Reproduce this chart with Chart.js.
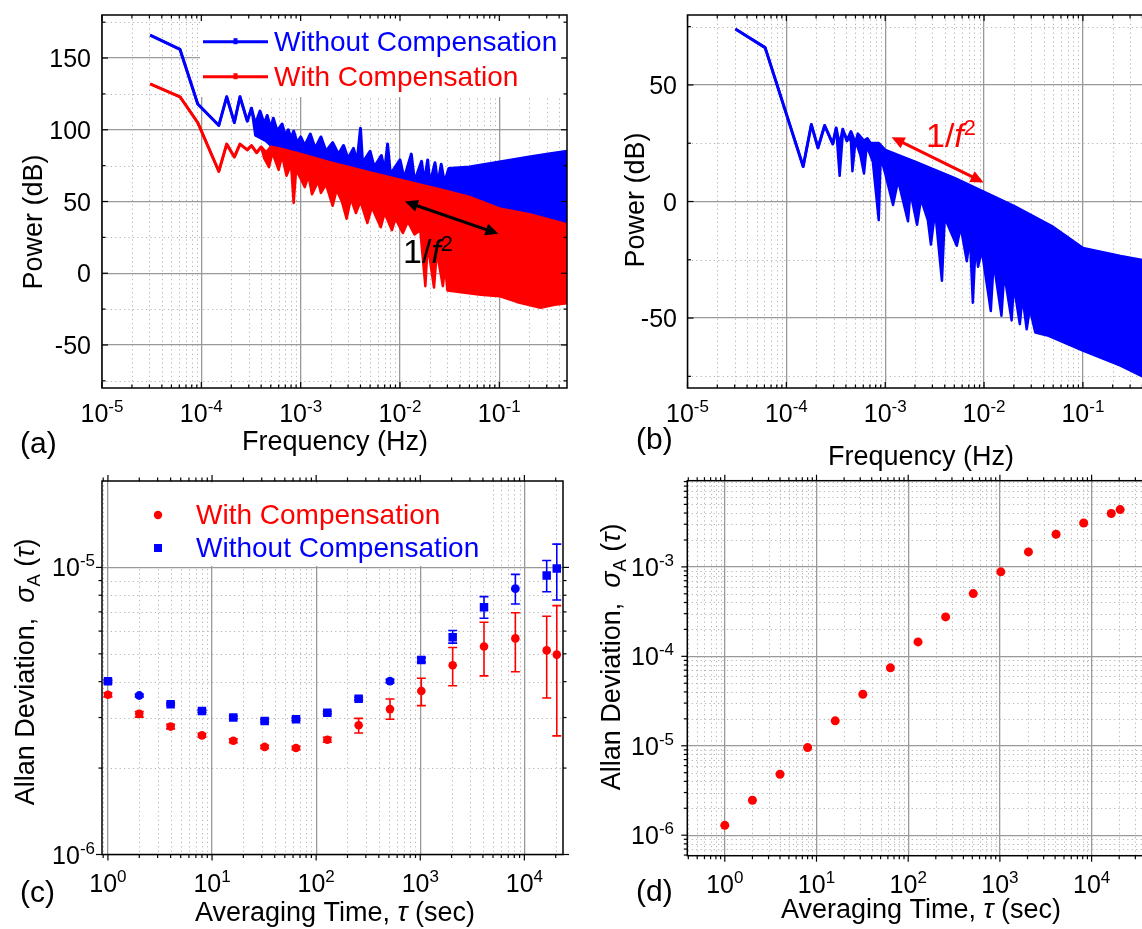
<!DOCTYPE html>
<html>
<head>
<meta charset="utf-8">
<script src="https://cdn.jsdelivr.net/npm/chart.js@4.4.1/dist/chart.umd.min.js"></script>
<style>
html, body { margin: 0; padding: 0; background: #fff; }
body { width: 1142px; height: 929px; overflow: hidden; position: relative; }
canvas { position: absolute; }
</style>
</head>
<body>
<canvas id="ca" width="580" height="480" style="left:0;top:0"></canvas>
<canvas id="cb" width="600" height="480" style="left:580px;top:0"></canvas>
<canvas id="cc" width="580" height="474" style="left:0;top:455px"></canvas>
<canvas id="cd" width="600" height="474" style="left:580px;top:455px"></canvas>
<script>
// ---- data ----

// (a) power spectra, [frequency (Hz), power (dB)] along the top and bottom edge of each trace
const aBlueUpper = [[3.05e-5,166],[6.1e-5,156],[9.2e-5,118],[1.5e-4,103],[1.8e-4,123],[2.15e-4,105],[2.45e-4,123],[2.9e-4,106],[3.2e-4,115],[3.5e-4,104],[3.9e-4,113],[4.3e-4,104],[4.6e-4,110],[5.0e-4,101],[5.3e-4,108],[5.8e-4,99],[6.5e-4,104],[7.0e-4,96],[7.5e-4,100],[8.0e-4,94],[8.5e-4,99],[9.2e-4,91],[1.0e-3,95],[1.1e-3,89],[1.25e-3,97],[1.4e-3,87],[1.6e-3,95],[1.8e-3,85],[2.1e-3,91],[2.4e-3,83],[2.7e-3,89],[3.0e-3,80],[3.4e-3,87],[3.7e-3,78],[4.0e-3,101],[4.2e-3,77],[5.0e-3,85],[5.5e-3,74],[6.5e-3,82],[7.0e-3,71],[7.5e-3,90],[8.0e-3,69],[1.0e-2,79],[1.1e-2,66],[1.3e-2,83],[1.4e-2,64],[1.65e-2,78],[1.75e-2,63],[1.9e-2,79],[2.0e-2,62],[2.25e-2,77],[2.4e-2,62],[2.6e-2,76],[2.8e-2,63],[3.1e-2,73],[5e-2,74],[0.1,77.5],[0.2,81],[0.3,83],[0.48,85]];
const aBlueLower = [[3.05e-5,166],[6.1e-5,156],[9.2e-5,118],[1.5e-4,103],[1.8e-4,123],[2.15e-4,105],[2.45e-4,123],[2.9e-4,106],[3.2e-4,115],[3.5e-4,96],[4.5e-4,92],[6e-4,84],[1e-3,78],[1e-2,60],[0.1,42],[0.48,30]];
const aRedUpper = [[3.05e-5,132],[6.1e-5,123],[9.2e-5,105],[1.5e-4,71],[1.8e-4,90],[2.15e-4,81],[2.45e-4,90],[2.9e-4,86],[3.2e-4,89],[3.6e-4,84],[4.0e-4,88],[4.5e-4,84],[5.0e-4,88],[6e-4,87],[1e-3,83],[2e-3,77],[5e-3,70],[1e-2,65],[3e-2,57],[5e-2,53],[0.1,45],[0.2,41],[0.48,34]];
const aRedLower = [[3.05e-5,132],[6.1e-5,123],[9.2e-5,105],[1.5e-4,71],[1.8e-4,90],[2.15e-4,81],[2.45e-4,90],[2.9e-4,86],[3.2e-4,89],[3.6e-4,84],[4.0e-4,88],[4.3e-4,80],[4.8e-4,74],[5.2e-4,84],[6.0e-4,72],[6.5e-4,82],[7.2e-4,68],[8.0e-4,76],[8.5e-4,49],[9.0e-4,72],[1.0e-3,66],[1.1e-3,60],[1.2e-3,68],[1.3e-3,55],[1.5e-3,64],[1.6e-3,56],[1.8e-3,62],[2.1e-3,47],[2.3e-3,58],[2.6e-3,50],[2.9e-3,38],[3.2e-3,52],[3.6e-3,42],[4.0e-3,50],[4.7e-3,35],[5.2e-3,46],[6.4e-3,32],[7.0e-3,42],[8.3e-3,30],[9.0e-3,38],[1.07e-2,28],[1.2e-2,36],[1.4e-2,27],[1.6e-2,30],[1.8e-2,-9],[1.9e-2,20],[2.2e-2,-10],[2.35e-2,15],[2.7e-2,-9],[2.85e-2,5],[3.0e-2,-12],[6.5e-2,-15],[0.1,-16],[0.15,-20],[0.26,-24],[0.36,-22],[0.48,-21]];

// (b) power spectrum
const bUpper = [[3.05e-5,74],[6.1e-5,66],[1.48e-4,15],[1.79e-4,33],[2.09e-4,23],[2.44e-4,32.6],[2.95e-4,24.7],[3.19e-4,31.5],[3.46e-4,24],[3.72e-4,31],[4.1e-4,26],[4.5e-4,30],[5.0e-4,25],[5.3e-4,29],[6.1e-4,26],[6.6e-4,27],[7.1e-4,25],[8.6e-4,25],[1e-3,22],[2e-3,17],[5e-3,10],[1e-2,4],[2e-2,-2],[5e-2,-11],[0.1,-20],[0.24,-23.5],[0.5,-26]];
const bLower = [[3.05e-5,74],[6.1e-5,66],[1.48e-4,15],[1.79e-4,33],[2.09e-4,23],[2.44e-4,32.6],[2.95e-4,24.7],[3.19e-4,31.5],[3.46e-4,11],[3.72e-4,29],[4.5e-4,26],[4.66e-4,13],[5.0e-4,26],[5.6e-4,20],[6.1e-4,12],[6.5e-4,24],[7.5e-4,17],[8.6e-4,-8],[9.0e-4,19],[1.0e-3,12],[1.2e-3,-1.5],[1.35e-3,9],[1.7e-3,-8.5],[1.8e-3,4],[2.1e-3,-10],[2.3e-3,1],[2.7e-3,-8],[2.9e-3,-18.5],[3.2e-3,-4],[3.75e-3,-34],[4.0e-3,-7],[5.3e-3,-19],[5.8e-3,-11],[6.7e-3,-25.6],[7.2e-3,-15],[7.7e-3,-43.4],[8.2e-3,-19],[8.7e-3,-28],[9.5e-3,-21],[1.17e-2,-47],[1.25e-2,-26],[1.5e-2,-49],[1.6e-2,-31],[1.9e-2,-51],[2.0e-2,-36],[2.3e-2,-52.6],[2.45e-2,-41],[2.7e-2,-54.8],[2.9e-2,-46],[3.3e-2,-56.2],[4.5e-2,-57.6],[0.1,-64],[0.24,-70.4],[0.5,-77]];

// (c) Allan deviation with error bars
const tauC = [1, 2, 4, 8, 16, 32, 64, 128, 256, 512, 1024, 2048, 4096, 8192, 16384, 20480];
const cRed   = [3.60e-6, 3.09e-6, 2.79e-6, 2.60e-6, 2.49e-6, 2.37e-6, 2.35e-6, 2.51e-6, 2.82e-6, 3.21e-6, 3.71e-6, 4.56e-6, 5.30e-6, 5.66e-6, 5.14e-6, 4.97e-6];
const cRedHi = [3.66e-6, 3.15e-6, 2.84e-6, 2.64e-6, 2.53e-6, 2.40e-6, 2.38e-6, 2.56e-6, 2.98e-6, 3.48e-6, 4.11e-6, 5.26e-6, 6.44e-6, 6.95e-6, 6.76e-6, 7.36e-6];
const cRedLo = [3.54e-6, 3.01e-6, 2.74e-6, 2.56e-6, 2.45e-6, 2.34e-6, 2.32e-6, 2.46e-6, 2.65e-6, 2.96e-6, 3.30e-6, 3.87e-6, 4.19e-6, 4.33e-6, 3.51e-6, 2.59e-6];
const cBlue   = [4.01e-6, 3.58e-6, 3.34e-6, 3.16e-6, 3.00e-6, 2.92e-6, 2.96e-6, 3.12e-6, 3.49e-6, 4.02e-6, 4.76e-6, 5.71e-6, 7.27e-6, 8.43e-6, 9.38e-6, 9.92e-6];
const cBlueHi = [4.05e-6, 3.62e-6, 3.37e-6, 3.19e-6, 3.03e-6, 2.95e-6, 2.99e-6, 3.15e-6, 3.53e-6, 4.08e-6, 4.85e-6, 6.03e-6, 7.91e-6, 9.46e-6, 1.057e-5, 1.205e-5];
const cBlueLo = [3.97e-6, 3.54e-6, 3.31e-6, 3.13e-6, 2.97e-6, 2.89e-6, 2.93e-6, 3.09e-6, 3.45e-6, 3.96e-6, 4.67e-6, 5.45e-6, 6.65e-6, 7.46e-6, 8.23e-6, 7.70e-6];

// (d) Allan deviation
const tauD = [1, 2, 4, 8, 16, 32, 64, 128, 256, 512, 1024, 2048, 4096, 8192, 16384, 20480];
const dRed = [1.29e-6, 2.46e-6, 4.81e-6, 9.55e-6, 1.90e-5, 3.77e-5, 7.43e-5, 1.45e-4, 2.76e-4, 5.03e-4, 8.80e-4, 1.47e-3, 2.32e-3, 3.10e-3, 3.95e-3, 4.37e-3];

// tick values
const freqTicks = [1e-5, 1e-4, 1e-3, 1e-2, 1e-1];
const aPowerTicks = [-50, 0, 50, 100, 150];
const aPowerMinor = [-75, -25, 25, 75, 125, 175];
const bPowerTicks = [-50, 0, 50];
const bPowerMinor = [-75, -25, 25, 75];
const tauTicks = [1, 10, 100, 1000, 10000];
const cAllanTicks = [1e-6, 1e-5];
const dAllanTicks = [1e-6, 1e-5, 1e-4, 1e-3];

// the "1/f^2" guide arrows, [frequency, power]
const aArrow = [[1.12e-2, 50], [9.8e-2, 27.5]];
const bArrow = [[1.16e-3, 27.6], [9.9e-3, 8.2]];

// ---- drawing ----
const FONT = '"Liberation Sans", Arial, sans-serif';
const BLUE = '#0000ff';
const RED = '#ff0000';
const GRID = '#999999';
const MINOR = '#b4b4b4';

const pts = arr => arr.map(([x, y]) => ({ x, y }));
const xy = (xs, ys) => xs.map((x, i) => ({ x, y: ys[i] }));

function minorsLog(lo, hi) {
    const out = [];
    for (let e = Math.floor(Math.log10(lo)); e <= Math.ceil(Math.log10(hi)); e++) {
        for (let m = 2; m <= 9; m++) {
            const v = m * Math.pow(10, e);
            if (v > lo && v < hi) out.push(v);
        }
    }
    return out;
}

const expLabel = v => [['10', ''], [String(Math.round(Math.log10(v))), 'sup']];
const numLabel = v => [[String(v), '']];

// text made of runs: '' normal, 'it' italic, 'sup' superscript, 'sub' subscript
function drawRich(ctx, parts, x, y, o) {
    const size = o.size;
    ctx.save();
    ctx.translate(x, y);
    if (o.rotate) ctx.rotate(o.rotate);
    ctx.fillStyle = o.color || '#000';
    ctx.textBaseline = 'alphabetic';
    ctx.textAlign = 'left';
    const runs = parts.map(([t, k]) => {
        const small = k.includes('sup') || k.includes('sub');
        const fs = small ? size * (o.small || 0.68) : size;
        const font = (k.includes('it') ? 'italic ' : '') + fs.toFixed(1) + 'px ' + FONT;
        ctx.font = font;
        const w = ctx.measureText(t).width;
        const dy = k.includes('sup') ? -size * (o.rise || 0.4) : k.includes('sub') ? size * 0.25 : 0;
        return { t, font, w, dy };
    });
    const total = runs.reduce((s, r) => s + r.w, 0);
    let cx = o.align === 'right' ? -total : o.align === 'center' ? -total / 2 : 0;
    runs.forEach(r => {
        ctx.font = r.font;
        ctx.fillText(r.t, cx, r.dy);
        cx += r.w;
    });
    ctx.restore();
}

function drawArrow(ctx, x1, y1, x2, y2, color) {
    const a = Math.atan2(y2 - y1, x2 - x1);
    const head = 13, half = 6;
    ctx.save();
    ctx.strokeStyle = color;
    ctx.fillStyle = color;
    ctx.lineWidth = 3;
    ctx.beginPath();
    ctx.moveTo(x1 + Math.cos(a) * head * 0.7, y1 + Math.sin(a) * head * 0.7);
    ctx.lineTo(x2 - Math.cos(a) * head * 0.7, y2 - Math.sin(a) * head * 0.7);
    ctx.stroke();
    [[x1, y1, a + Math.PI], [x2, y2, a]].forEach(([px, py, ang]) => {
        ctx.beginPath();
        ctx.moveTo(px, py);
        ctx.lineTo(px - Math.cos(ang) * head - Math.sin(ang) * half, py - Math.sin(ang) * head + Math.cos(ang) * half);
        ctx.lineTo(px - Math.cos(ang) * head + Math.sin(ang) * half, py - Math.sin(ang) * head - Math.cos(ang) * half);
        ctx.closePath();
        ctx.fill();
    });
    ctx.restore();
}

// per-panel decoration, looked up by canvas id (page coordinates)
const DECOR = {
    ca: {
        ox: 0, oy: 0, inward: true,
        xMajor: freqTicks, xMinor: minorsLog(1e-5, 0.48), yMajor: aPowerTicks, yMinor: aPowerMinor,
        xFmt: expLabel, yFmt: numLabel, xBase: 421.5, yRight: 91,
        xTitle: { parts: [['Frequency (Hz)', '']], x: 335, y: 450 },
        yTitle: { parts: [['Power (dB)', '']], x: 32, y: 222 },
        tag: { text: '(a)', x: 20, y: 453 },
        box: [200, 16.5, 562, 97],
        legend: [
            { kind: 'line', color: BLUE, x: 203, x2: 268, y: 41.7, text: 'Without Compensation', tx: 274, ty: 51 },
            { kind: 'line', color: RED, x: 203, x2: 268, y: 76.7, text: 'With Compensation', tx: 274, ty: 86 }
        ],
        arrows: [{ ends: aArrow, color: '#000' }],
        notes: [{ x: 403, y: 263, color: '#000' }]
    },
    cb: {
        ox: 580, oy: 0, inward: true,
        xMajor: freqTicks, xMinor: minorsLog(1e-5, 0.5), yMajor: bPowerTicks, yMinor: bPowerMinor,
        xFmt: expLabel, yFmt: numLabel, xBase: 421.5, yRight: 677,
        xTitle: { parts: [['Frequency (Hz)', '']], x: 921, y: 465 },
        yTitle: { parts: [['Power (dB)', '']], x: 634, y: 200 },
        tag: { text: '(b)', x: 636, y: 449 },
        arrows: [{ ends: bArrow, color: RED }],
        notes: [{ x: 926, y: 147, color: RED }]
    },
    cc: {
        ox: 0, oy: 455, inward: false,
        xMajor: tauTicks, xMinor: minorsLog(0.877, 2.35e4), yMajor: cAllanTicks, yMinor: minorsLog(1e-6, 2e-5),
        xFmt: expLabel, yFmt: expLabel, xBase: 892, yRight: 95,
        xTitle: { parts: [['Averaging Time, ', ''], ['τ', 'it'], [' (sec)', '']], x: 335, y: 921 },
        yTitle: { parts: [['Allan Deviation,  ', ''], ['σ', 'it'], ['A', 'sub'], [' (', ''], ['τ', 'it'], [')', '']], x: 24, y: 672 },
        tag: { text: '(c)', x: 20, y: 902 },
        box: [123, 482.5, 485, 566],
        legend: [
            { kind: 'circle', color: RED, x: 158, y: 515, text: 'With Compensation', tx: 196, ty: 524 },
            { kind: 'rect', color: BLUE, x: 158, y: 548, text: 'Without Compensation', tx: 196, ty: 557 }
        ],
        errors: [
            { xs: tauC, hi: cBlueHi, lo: cBlueLo, color: BLUE },
            { xs: tauC, hi: cRedHi, lo: cRedLo, color: RED }
        ]
    },
    cd: {
        ox: 580, oy: 455, inward: false,
        xMajor: tauTicks, xMinor: minorsLog(0.39, 5e4), yMajor: dAllanTicks, yMinor: minorsLog(5.9e-7, 9.2e-3),
        xFmt: expLabel, yFmt: expLabel, xBase: 893, yRight: 674,
        xTitle: { parts: [['Averaging Time, ', ''], ['τ', 'it'], [' (sec)', '']], x: 921, y: 918 },
        yTitle: { parts: [['Allan Deviation,  ', ''], ['σ', 'it'], ['A', 'sub'], [' (', ''], ['τ', 'it'], [')', '']], x: 610, y: 657 },
        tag: { text: '(d)', x: 636, y: 901 }
    }
};

const decor = {
    id: 'decor',
    beforeDatasetsDraw(chart) {
        const o = DECOR[chart.canvas.id];
        const { ctx, chartArea: ca } = chart;
        const xs = chart.scales.x, ys = chart.scales.y;
        ctx.save();
        ctx.beginPath();
        ctx.rect(ca.left, ca.top, ca.right - ca.left, ca.bottom - ca.top);
        ctx.clip();
        // dotted minor grid
        ctx.strokeStyle = MINOR;
        ctx.lineWidth = 1;
        ctx.setLineDash([1.2, 3.2]);
        o.xMinor.forEach(v => {
            const px = Math.round(xs.getPixelForValue(v)) + 0.5;
            ctx.beginPath(); ctx.moveTo(px, ca.top); ctx.lineTo(px, ca.bottom); ctx.stroke();
        });
        o.yMinor.forEach(v => {
            const py = Math.round(ys.getPixelForValue(v)) + 0.5;
            ctx.beginPath(); ctx.moveTo(ca.left, py); ctx.lineTo(ca.right, py); ctx.stroke();
        });
        ctx.setLineDash([]);
        // legend background
        if (o.box) {
            const [x0, y0, x1, y1] = o.box;
            ctx.fillStyle = '#fff';
            ctx.fillRect(x0 - o.ox, y0 - o.oy, x1 - x0, y1 - y0);
        }
        // error bars
        (o.errors || []).forEach(e => {
            ctx.strokeStyle = e.color;
            ctx.lineWidth = 1.6;
            e.xs.forEach((t, i) => {
                const px = xs.getPixelForValue(t);
                const ph = ys.getPixelForValue(e.hi[i]);
                const pl = ys.getPixelForValue(e.lo[i]);
                ctx.beginPath();
                ctx.moveTo(px, ph); ctx.lineTo(px, pl);
                ctx.moveTo(px - 4.5, ph); ctx.lineTo(px + 4.5, ph);
                ctx.moveTo(px - 4.5, pl); ctx.lineTo(px + 4.5, pl);
                ctx.stroke();
            });
        });
        ctx.restore();
    },
    afterDraw(chart) {
        const o = DECOR[chart.canvas.id];
        const { ctx, chartArea: ca } = chart;
        const xs = chart.scales.x, ys = chart.scales.y;
        const L = ca.left, R = ca.right, T = ca.top, B = ca.bottom;
        const dir = o.inward ? -1 : 1;
        ctx.save();
        ctx.strokeStyle = '#000';
        ctx.lineWidth = 1.2;
        const seg = (x1, y1, x2, y2) => { ctx.beginPath(); ctx.moveTo(x1, y1); ctx.lineTo(x2, y2); ctx.stroke(); };
        const xt = (vals, len) => vals.forEach(v => {
            const px = xs.getPixelForValue(v);
            if (px < L - 0.5 || px > R + 0.5) return;
            seg(px, B, px, B + dir * len);
            seg(px, T, px, T - dir * len);
        });
        const yt = (vals, len) => vals.forEach(v => {
            const py = ys.getPixelForValue(v);
            if (py < T - 0.5 || py > B + 0.5) return;
            seg(L, py, L - dir * len, py);
            seg(R, py, R + dir * len, py);
        });
        xt(o.xMajor, 6); xt(o.xMinor, 3.5);
        yt(o.yMajor, 6); yt(o.yMinor, 3.5);
        ctx.lineWidth = 1.5;
        ctx.strokeRect(L, T, R - L, B - T);

        // tick labels
        o.xMajor.forEach(v => drawRich(ctx, o.xFmt(v), xs.getPixelForValue(v), o.xBase - o.oy, { size: 25, align: 'center' }));
        o.yMajor.forEach(v => drawRich(ctx, o.yFmt(v), o.yRight - o.ox, ys.getPixelForValue(v) + 9, { size: 25, align: 'right' }));

        // axis titles and panel tag
        drawRich(ctx, o.xTitle.parts, o.xTitle.x - o.ox, o.xTitle.y - o.oy, { size: 27, align: 'center' });
        drawRich(ctx, o.yTitle.parts, o.yTitle.x - o.ox + 9.5, o.yTitle.y - o.oy, { size: 27, align: 'center', rotate: -Math.PI / 2 });
        drawRich(ctx, [[o.tag.text, '']], o.tag.x - o.ox, o.tag.y - o.oy, { size: 30 });

        // legend
        (o.legend || []).forEach(it => {
            const cx = it.x - o.ox, cy = it.y - o.oy;
            ctx.fillStyle = it.color;
            ctx.strokeStyle = it.color;
            if (it.kind === 'line') {
                ctx.lineWidth = 3;
                seg(cx, cy, it.x2 - o.ox, cy);
                ctx.fillRect((cx + it.x2 - o.ox) / 2 - 2, cy - 3.5, 4, 6);
            } else if (it.kind === 'circle') {
                ctx.beginPath(); ctx.arc(cx, cy, 4.2, 0, Math.PI * 2); ctx.fill();
            } else {
                ctx.fillRect(cx - 4, cy - 4, 8, 8);
            }
            drawRich(ctx, [[it.text, '']], it.tx - o.ox, it.ty - o.oy, { size: 28, color: it.color });
        });

        // guide arrows and 1/f^2 notes
        (o.arrows || []).forEach(a => {
            const [[f1, p1], [f2, p2]] = a.ends;
            drawArrow(ctx, xs.getPixelForValue(f1), ys.getPixelForValue(p1), xs.getPixelForValue(f2), ys.getPixelForValue(p2), a.color);
        });
        (o.notes || []).forEach(n => {
            drawRich(ctx, [['1/', ''], ['f', 'it'], ['2', 'sup']], n.x - o.ox, n.y - o.oy, { size: 34, color: n.color, small: 0.64, rise: 0.34 });
        });
        ctx.restore();
    }
};

function axis(type, min, max, ticks) {
    return {
        type, min, max,
        afterBuildTicks: s => { s.ticks = ticks.map(v => ({ value: v })); },
        ticks: { display: false },
        grid: { color: GRID, lineWidth: 1.3, drawTicks: false },
        border: { display: false }
    };
}

function baseOptions(padding, x, y) {
    return {
        responsive: false,
        animation: false,
        layout: { padding },
        plugins: { legend: { display: false }, tooltip: { enabled: false } },
        elements: { line: { tension: 0, borderJoinStyle: 'round' } },
        scales: { x, y }
    };
}

function band(data, color, width, fill) {
    return {
        data: pts(data),
        borderColor: color,
        backgroundColor: color,
        borderWidth: width,
        pointRadius: 0,
        fill: fill ? '-1' : false
    };
}

// (a)
new Chart(document.getElementById('ca'), {
    type: 'line',
    data: {
        datasets: [
            band(aRedUpper, RED, 3, false),
            band(aRedLower, RED, 2.5, true),
            band(aBlueUpper, BLUE, 3, false),
            band(aBlueLower, BLUE, 2.5, true)
        ]
    },
    options: baseOptions({ left: 102, top: 15, right: 13, bottom: 92 },
        axis('logarithmic', 1e-5, 0.48, freqTicks),
        axis('linear', -80, 180, aPowerTicks)),
    plugins: [decor]
});

// (b)
new Chart(document.getElementById('cb'), {
    type: 'line',
    data: {
        datasets: [
            band(bUpper, BLUE, 3, false),
            band(bLower, BLUE, 2.5, true)
        ]
    },
    options: baseOptions({ left: 107.5, top: 15, right: 28, bottom: 92 },
        axis('logarithmic', 1e-5, 0.5, freqTicks),
        axis('linear', -80, 80, bPowerTicks)),
    plugins: [decor]
});

// (c)
new Chart(document.getElementById('cc'), {
    type: 'scatter',
    data: {
        datasets: [
            { data: xy(tauC, cRed), backgroundColor: RED, borderColor: RED, borderWidth: 0, pointRadius: 4.3, pointStyle: 'circle' },
            { data: xy(tauC, cBlue), backgroundColor: BLUE, borderColor: BLUE, borderWidth: 0,
              pointRadius: [6, 4.4, 6, 6, 6, 6, 6, 6, 6, 4.4, 6, 6, 6, 4.4, 6, 6],
              pointStyle: ['rect', 'circle', 'rect', 'rect', 'rect', 'rect', 'rect', 'rect', 'rect', 'circle', 'rect', 'rect', 'rect', 'circle', 'rect', 'rect'] }
        ]
    },
    options: baseOptions({ left: 102, top: 26, right: 17, bottom: 74.5 },
        axis('logarithmic', 0.877, 2.35e4, tauTicks),
        axis('logarithmic', 1e-6, 2e-5, cAllanTicks)),
    plugins: [decor]
});

// (d)
new Chart(document.getElementById('cd'), {
    type: 'scatter',
    data: {
        datasets: [
            { data: xy(tauD, dRed), backgroundColor: RED, borderColor: RED, borderWidth: 0, pointRadius: 4.5, pointStyle: 'circle' }
        ]
    },
    options: baseOptions({ left: 107.3, top: 25.7, right: 24.3, bottom: 73.3 },
        axis('logarithmic', 0.39, 5e4, tauTicks),
        axis('logarithmic', 5.9e-7, 9.2e-3, dAllanTicks)),
    plugins: [decor]
});
</script>
</body>
</html>
